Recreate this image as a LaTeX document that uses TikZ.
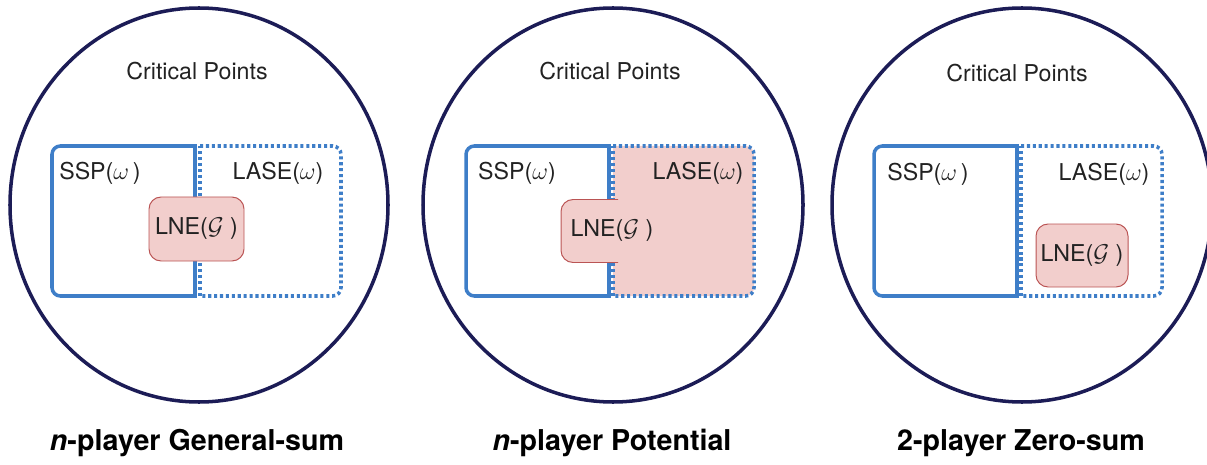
\documentclass[tikz,border=0pt]{standalone}
\usepackage{fontspec}
\setmainfont{TeX Gyre Heros}

\definecolor{navyline}{RGB}{28,28,86}
\definecolor{setblue}{RGB}{62,126,200}
\definecolor{lnepink}{RGB}{242,206,204}
\definecolor{lnered}{RGB}{186,84,84}
\definecolor{inktext}{RGB}{34,34,34}

\tikzset{
  ring/.style={draw=navyline, line width=2.5pt},
  sspline/.style={draw=setblue, line width=2.5pt},
  laseline/.style={draw=setblue, line width=2.5pt, dash pattern=on 2.2pt off 2pt},
  lnebox/.style={draw=lnered, line width=0.7pt, fill=lnepink, rounded corners=0.3cm,
    inner sep=0pt},
  settext/.style={text=inktext, font=\fontsize{16.5}{19}\selectfont, inner sep=0pt},
  gametitle/.style={text=black, font=\fontsize{20.4}{24}\selectfont\bfseries, inner sep=0pt}
}

\begin{document}
\begin{tikzpicture}
      \useasboundingbox (0, 0) rectangle (30.175, 11.6);

      % n-player general-sum
      \draw[ring] (4.975, 6.475) ellipse (4.725 and 4.925);
      \node[settext] (crit1) at (4.925, 9.825) {Critical Points};

      \draw[sspline, rounded corners=6pt] (4.875, 4.2) -- (1.3, 4.2) -- (1.3, 7.95) -- (4.875, 7.95);
      \draw[sspline, line cap=rect] (4.875, 7.95) -- (4.875, 4.2);
      \draw[laseline, rounded corners=6pt] (5.0, 7.95) -- (8.525, 7.95) -- (8.525, 4.2) -- (5.0, 4.2);
      \draw[laseline] (5.0, 4.2) -- (5.0, 7.95);

      \node[settext] (ssp1) at (2.5, 7.275) {SSP($\omega$\,)};
      \node[settext] (lase1) at (6.95, 7.275) {LASE($\omega$)};
      \node[lnebox, settext, minimum width=2.375cm, minimum height=1.6cm] (lne1)
        at (4.9125, 5.875) {LNE($\mathcal{G}$\;)};

      \node[gametitle] (game1) at (4.925, 0.525) {\textit{n}-player General-sum};

      % n-player potential
      \draw[ring] (15.325, 6.475) ellipse (4.75 and 4.925);
      \node[settext] (crit2) at (15.25, 9.825) {Critical Points};

      \draw[sspline, rounded corners=6pt] (15.225, 4.2) -- (11.65, 4.2) -- (11.65, 7.95) -- (15.225, 7.95);
      \draw[sspline, line cap=rect] (15.225, 7.95) -- (15.225, 4.2);
      \draw[laseline, fill=lnepink, rounded corners=6pt] (15.325, 7.95) -- (18.85, 7.95) -- (18.85, 4.2) -- (15.325, 4.2);
      \draw[laseline] (15.325, 4.2) -- (15.325, 7.95);

      \node[settext] (ssp2) at (12.925, 7.275) {SSP($\omega$)};
      \node[settext] (lase2) at (17.45, 7.275) {LASE($\omega$)};
      \node[lnebox, settext, draw=none, minimum width=2.55cm, minimum height=1.575cm] (lne2)
        at (15.3, 5.825) {LNE($\mathcal{G}$\;)};
      \draw[draw=lnered, line width=0.7pt, rounded corners=0.3cm]
        (15.45, 6.6125) -- (14.025, 6.6125) -- (14.025, 5.0375) -- (15.45, 5.0375);

      \node[gametitle] (game2) at (15.3, 0.525) {\textit{n}-player Potential};

      % 2-player zero-sum
      \draw[ring] (25.55, 6.475) ellipse (4.75 and 4.925);
      \node[settext] (crit3) at (25.425, 9.775) {Critical Points};

      \draw[sspline, rounded corners=6pt] (25.425, 4.2) -- (21.85, 4.2) -- (21.85, 7.95) -- (25.425, 7.95);
      \draw[sspline, line cap=rect] (25.425, 7.95) -- (25.425, 4.2);
      \draw[laseline, rounded corners=6pt] (25.525, 7.95) -- (29.05, 7.95) -- (29.05, 4.2) -- (25.525, 4.2);
      \draw[laseline] (25.525, 4.2) -- (25.525, 7.95);

      \node[settext] (ssp3) at (23.2, 7.25) {SSP($\omega$\,)};
      \node[settext] (lase3) at (27.6, 7.25) {LASE($\omega$)};
      \node[lnebox, settext, minimum width=2.3cm, minimum height=1.575cm] (lne3)
        at (27.05, 5.2125) {LNE($\mathcal{G}$\;)};

      \node[gametitle] (game3) at (25.525, 0.525) {2-player Zero-sum};
    \end{tikzpicture}
\end{document}
